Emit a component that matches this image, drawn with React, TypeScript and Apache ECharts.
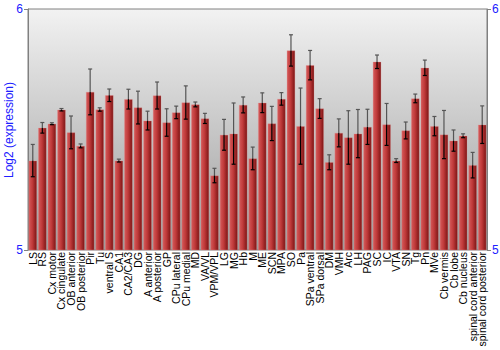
import React, { useEffect, useRef } from "react";
import * as echarts from "echarts";

const categories = [
  "LS", "RS", "Cx motor", "Cx cingulate", "OB anterior", "OB posterior", "Pir", "Tu",
  "ventral S", "CA1", "CA2/CA3", "DG", "A anterior", "A posterior", "GP", "CPu lateral",
  "CPu medial", "MD", "VA/VL", "VPM/VPL", "LG", "MG", "Hb", "M", "ME", "SCN", "MPA",
  "SO", "Pa", "SPa ventral", "SPa dorsal", "DM", "VMH", "Arc", "LH", "PAG", "SC", "IC",
  "VTA", "SN", "Tg", "Pn", "MVe", "Cb vermis", "Cb lobe", "Cb nucleus",
  "spinal cord anterior", "spinal cord posterior",
];

const values = [
  5.371, 5.507, 5.524, 5.582, 5.488, 5.432, 5.656, 5.583,
  5.642, 5.371, 5.626, 5.591, 5.537, 5.641, 5.529, 5.571,
  5.612, 5.604, 5.546, 5.309, 5.478, 5.483, 5.602, 5.380, 5.611, 5.525, 5.627,
  5.828, 5.514, 5.767, 5.587, 5.364, 5.486, 5.467, 5.483, 5.511, 5.781, 5.521,
  5.371, 5.496, 5.629, 5.756, 5.514, 5.479, 5.454, 5.474,
  5.352, 5.520,
];

const errors = [
  0.067, 0.022, 0.004, 0.005, 0.068, 0.008, 0.095, 0.007,
  0.026, 0.006, 0.041, 0.068, 0.039, 0.056, 0.057, 0.026,
  0.069, 0.010, 0.021, 0.030, 0.064, 0.127, 0.033, 0.047, 0.041, 0.071, 0.026,
  0.065, 0.158, 0.061, 0.041, 0.031, 0.058, 0.111, 0.100, 0.073, 0.028, 0.087,
  0.008, 0.035, 0.018, 0.032, 0.040, 0.100, 0.044, 0.008,
  0.053, 0.078,
];

const yTicks = { min: 5, max: 6, interval: 1 };
const yTitle = "Log2 (expression)";

export default function App() {
  const ref = useRef<HTMLDivElement>(null);

  useEffect(() => {
    if (!ref.current) return;
    const chart = echarts.init(ref.current, null, { renderer: "svg" });
    const blue = "#2020ff";
    const axisGray = "#808080";
    const font = "'Liberation Sans', Arial, sans-serif";

    const yAxisBase = {
      type: "value",
      min: yTicks.min,
      max: yTicks.max,
      interval: yTicks.interval,
      axisLine: { show: true, lineStyle: { color: axisGray, width: 1 } },
      axisTick: { show: true, length: 4, lineStyle: { color: axisGray } },
      splitLine: { show: false },
      axisLabel: { color: blue, fontSize: 12, fontFamily: font, margin: 5 },
    };

    chart.setOption({
      animation: false,
      grid: {
        left: 28,
        right: 13,
        top: 9,
        bottom: 100,
        containLabel: false,
        outerBoundsMode: "none",
        show: true,
        borderColor: axisGray,
        borderWidth: 1,
        backgroundColor: {
          type: "linear",
          x: 0, y: 0, x2: 0, y2: 1,
          colorStops: [
            { offset: 0, color: "#f2f2f2" },
            { offset: 1, color: "#9c9c9c" },
          ],
        },
      },
      graphic: [
        {
          type: "text",
          x: 9,
          y: 130,
          rotation: Math.PI / 2,
          style: {
            text: yTitle,
            fill: blue,
            fontSize: 12,
            fontFamily: font,
            align: "center",
            verticalAlign: "middle",
          },
        },
      ],
      xAxis: {
        type: "category",
        data: categories,
        axisLine: { show: false },
        axisTick: { show: false },
        axisLabel: {
          interval: 0,
          rotate: 90,
          color: "#000",
          fontSize: 10.5,
          fontFamily: font,
          margin: 2,
        },
      },
      yAxis: [
        { ...yAxisBase, position: "left" },
        { ...yAxisBase, position: "right" },
      ],
      series: [
        {
          type: "bar",
          data: values,
          barCategoryGap: "12%",
          itemStyle: {
            color: {
              type: "linear",
              x: 0, y: 0, x2: 1, y2: 0,
              colorStops: [
                { offset: 0, color: "#d45a5a" },
                { offset: 0.45, color: "#c03a3a" },
                { offset: 1, color: "#7c1414" },
              ],
            },
            borderColor: "rgba(230,140,140,0.5)",
            borderWidth: 0.6,
          },
        },
        {
          type: "custom",
          data: values.map((v, i) => [i, v, errors[i]]),
          z: 10,
          renderItem: (params: any, api: any) => {
            const i = api.value(0);
            const v = api.value(1);
            const e = api.value(2);
            const pTop = api.coord([i, v + e]);
            const pMid = api.coord([i, v]);
            const pBot = api.coord([i, v - e]);
            const x = pMid[0];
            const hw = 2;
            const upper = { stroke: "#555", lineWidth: 1.2 };
            const lower = { stroke: "#000", lineWidth: 1.2 };
            return {
              type: "group",
              children: [
                { type: "line", shape: { x1: x, y1: pTop[1], x2: x, y2: pMid[1] }, style: upper },
                { type: "line", shape: { x1: x - hw, y1: pTop[1], x2: x + hw, y2: pTop[1] }, style: upper },
                { type: "line", shape: { x1: x, y1: pMid[1], x2: x, y2: pBot[1] }, style: lower },
                { type: "line", shape: { x1: x - hw, y1: pBot[1], x2: x + hw, y2: pBot[1] }, style: lower },
              ],
            };
          },
        },
      ],
    });

    return () => chart.dispose();
  }, []);

  return (
    <div
      ref={ref}
      style={{ position: "fixed", left: 0, top: 0, width: 500, height: 350, background: "#fff" }}
    />
  );
}
